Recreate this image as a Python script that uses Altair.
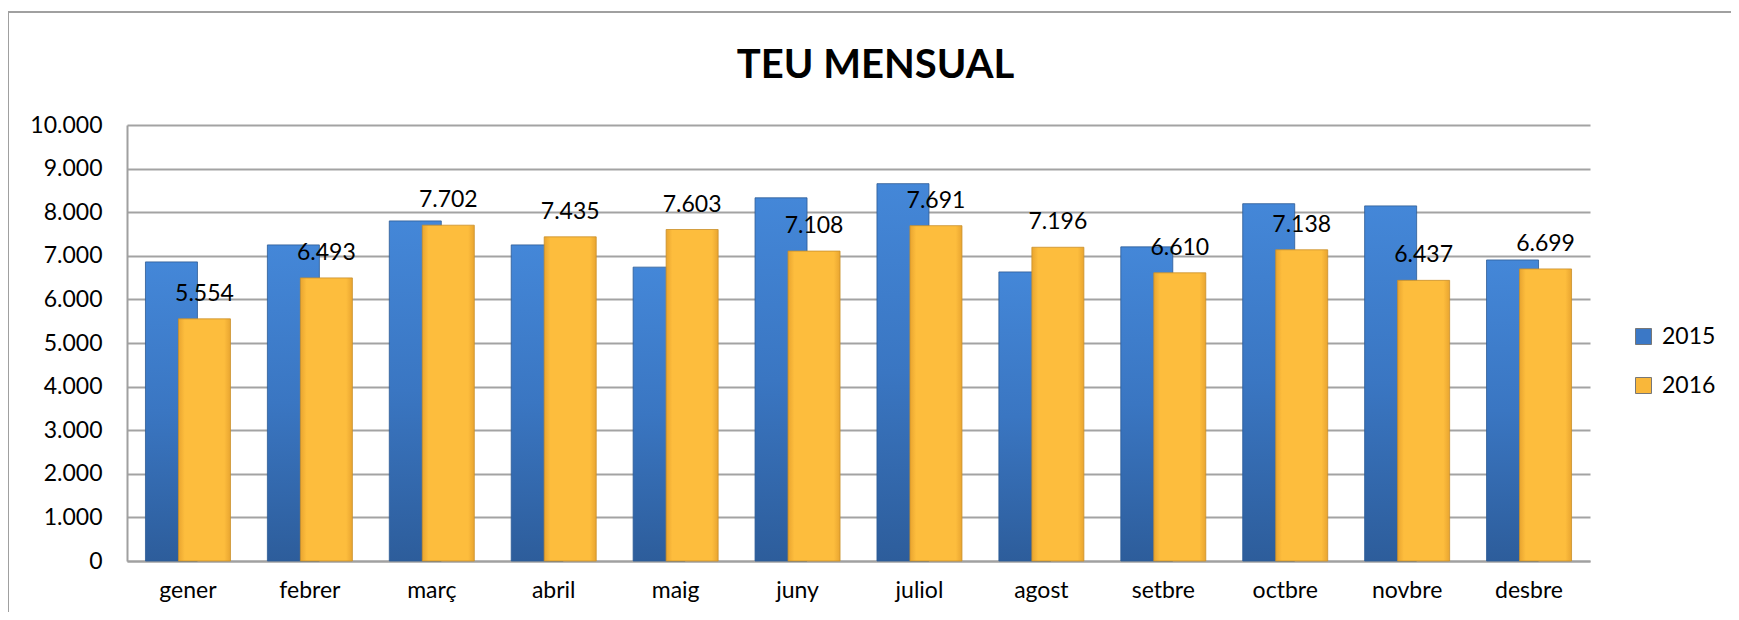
import altair as alt
import pandas as pd

months = ["gener", "febrer", "març", "abril", "maig", "juny",
          "juliol", "agost", "setbre", "octbre", "novbre", "desbre"]
teu_2015 = [6860, 7250, 7800, 7250, 6740, 8330, 8655, 6630, 7205, 8195, 8145, 6905]
teu_2016 = [5554, 6493, 7702, 7435, 7603, 7108, 7691, 7196, 6610, 7138, 6437, 6699]
years = ["2015", "2016"]
y_ticks = list(range(0, 10001, 1000))
title_text = "TEU MENSUAL"

FONT = "Lato"
W, H = 1463, 436

df15 = pd.DataFrame({"month": months, "teu": teu_2015, "year": years[0]})
df16 = pd.DataFrame({"month": months, "teu": teu_2016, "year": years[1]})
dfleg = pd.DataFrame({"month": [months[0]] * 2, "teu": [0, 0], "year": years})

x_enc = alt.X("month:N", sort=months, title=None,
              scale=alt.Scale(paddingInner=0, paddingOuter=0),
              axis=alt.Axis(labelAngle=0, ticks=False, labelPadding=18,
                            labelFontSize=23, labelFont=FONT, labelColor="#000",
                            domainColor="#a0a0a0", domainWidth=2, grid=False))
y_enc = alt.Y("teu:Q", title=None,
              scale=alt.Scale(domain=[0, 10000], nice=False),
              axis=alt.Axis(values=y_ticks, ticks=False, labelPadding=25,
                            labelFontSize=23, labelFont=FONT, labelColor="#000",
                            labelExpr="replace(format(datum.value, ','), ',', '.')",
                            domainColor="#a0a0a0", domainWidth=2,
                            gridColor="#a3a3a3", gridWidth=2))
color_enc = alt.Color("year:N", scale=alt.Scale(domain=years, range=["#3b78c6", "#f9b73a"]),
                      legend=alt.Legend(title=None, orient="none", legendX=1505, legendY=200,
                                        symbolType="square", symbolSize=256,
                                        symbolStrokeWidth=1, symbolStrokeColor="#777",
                                        labelFontSize=23, labelFont=FONT, labelColor="#000",
                                        labelOffset=7, rowPadding=25, padding=0))

blue_grad = alt.Gradient(gradient="linear", x1=0, x2=0, y1=0, y2=1,
                         stops=[alt.GradientStop(color="#4487d8", offset=0),
                                alt.GradientStop(color="#3a76c2", offset=0.5),
                                alt.GradientStop(color="#2d5d9b", offset=1)])
yellow_grad = alt.Gradient(gradient="linear", x1=0, x2=1, y1=0, y2=0,
                           stops=[alt.GradientStop(color="#e9a530", offset=0),
                                  alt.GradientStop(color="#fdbd3d", offset=0.12),
                                  alt.GradientStop(color="#fdbd3d", offset=0.88),
                                  alt.GradientStop(color="#e9a530", offset=1)])

bars15 = alt.Chart(df15).mark_bar(width=52, xOffset=-16.5, stroke="#2c5a94",
                                  strokeWidth=0.8).encode(
    x=x_enc, y=y_enc, fill=alt.value(blue_grad))
bars16 = alt.Chart(df16).mark_bar(width=52, xOffset=16.5, stroke="#c98f2a",
                                  strokeWidth=0.8).encode(
    x=x_enc, y=y_enc, fill=alt.value(yellow_grad))
labels16 = alt.Chart(df16).transform_calculate(
    lab="replace(format(datum.teu, ','), ',', '.')"
).mark_text(xOffset=16.5, dy=-18, baseline="alphabetic", fontSize=23,
            font=FONT, color="#000").encode(
    x=alt.X("month:N", sort=months), y="teu:Q", text="lab:N")
legend_layer = alt.Chart(dfleg).mark_square(size=0, opacity=1).encode(
    x=alt.X("month:N", sort=months), y="teu:Q", color=color_enc)

frame_df = pd.DataFrame({"k": [0]})
left_border = alt.Chart(frame_df).mark_rule(color="#a0a0a0", strokeWidth=2).encode(
    x=alt.value(-119), y=alt.value(-113), y2=alt.value(H + 60))
top_border = alt.Chart(frame_df).mark_rule(color="#a0a0a0", strokeWidth=2).encode(
    x=alt.value(-119), x2=alt.value(W + 160), y=alt.value(-113))
title_mark = alt.Chart(pd.DataFrame({"t": [title_text]})).mark_text(
    fontSize=40, font=FONT, fontWeight="bold", color="#000",
    align="center", baseline="alphabetic").encode(
    x=alt.value(W / 2 + 17), y=alt.value(-47), text="t:N")

chart = alt.layer(left_border, top_border, bars15, bars16, labels16,
                  legend_layer, title_mark).properties(
    width=W, height=H,
    autosize=alt.AutoSizeParams(type="none"),
    padding={"left": 119, "top": 117, "right": 141, "bottom": 51},
).configure_view(stroke=None)

chart.save("out.html", embed_options={"renderer": "svg", "actions": False})
